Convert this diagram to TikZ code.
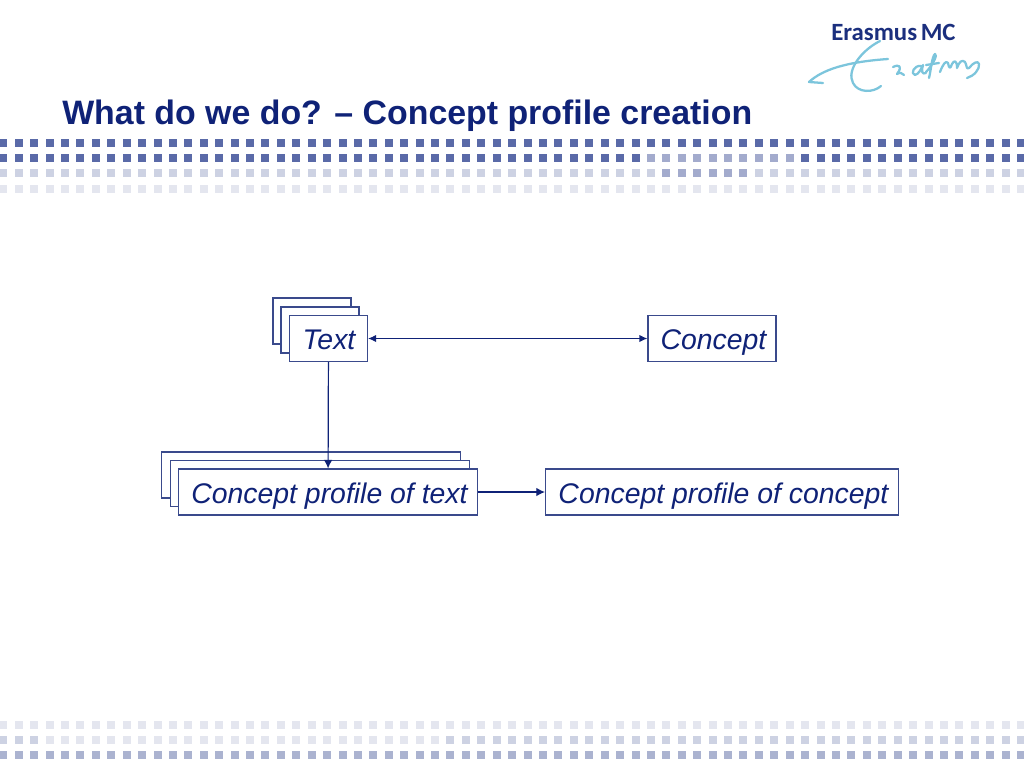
\documentclass[tikz,border=0pt]{standalone}
\usepackage{fontspec}
\setmainfont{Liberation Sans}
\newfontfamily\logofont{Carlito}
\usetikzlibrary{arrows.meta}
\definecolor{navy}{HTML}{0F2277}
\definecolor{boxline}{HTML}{3A4A8C}
\definecolor{sqA}{HTML}{5A6AA8}
\definecolor{sqB}{HTML}{A3ABCD}
\definecolor{sqC}{HTML}{CDD2E3}
\definecolor{sqD}{HTML}{E4E6EF}
\definecolor{sqE}{HTML}{ABB3D0}
\definecolor{logoblue}{HTML}{1B2F7E}
\definecolor{logocyan}{HTML}{7CC5DC}
\tikzset{
  boxnode/.style={draw=boxline,line width=0.85pt,fill=white,anchor=center,inner sep=0pt,text=navy,text height=17pt,text depth=0.5pt,font=\fontsize{21.3}{24}\selectfont\itshape},
  link/.style={navy,line width=0.9pt},
  sig/.style={logocyan,line width=1.7pt,line cap=round,line join=round}
}
\newcommand{\sq}[3]{\fill[#3] ({3.3+15.42*#1-4},{#2-4}) rectangle ++(8,8);}
\begin{document}
\begin{tikzpicture}[x=0.75pt,y=-0.75pt]
\useasboundingbox (0,0) rectangle (1024,768);
\fill[white] (0,0) rectangle (1024,768);
% dot bands
\foreach \i in {0,...,66}{
  \sq{\i}{143}{sqA}
  \pgfmathtruncatemacro{\mid}{(\i>=42 && \i<=51) ? 1 : 0}
  \ifnum\mid=1 \sq{\i}{158}{sqB} \else \sq{\i}{158}{sqA} \fi
  \pgfmathtruncatemacro{\mid}{(\i>=43 && \i<=48) ? 1 : 0}
  \ifnum\mid=1 \sq{\i}{173}{sqB} \else \sq{\i}{173}{sqC} \fi
  \sq{\i}{189}{sqD}
  \sq{\i}{725}{sqD}
  \pgfmathtruncatemacro{\mid}{(\i<=2 || \i>=29) ? 1 : 0}
  \ifnum\mid=1 \sq{\i}{740}{sqC} \else \sq{\i}{740}{sqD} \fi
  \sq{\i}{755}{sqE}
}
% title
\node[anchor=base west,inner sep=0pt,text=navy,font=\fontsize{25.4}{28}\selectfont\bfseries] (title) at (62,124.5) {What do we do? – Concept profile creation};
% logo
\node[anchor=base west,inner sep=0pt,text=logoblue,font=\logofont\fontsize{18.6}{20}\selectfont\bfseries] (logo) at (831,40.5) {Erasmus\kern-1.5pt\ MC};
\draw[sig] (809,82) .. controls (822,70) and (845,62) .. (888,59);
\draw[sig] (880,41) .. controls (862,50) and (846,70) .. (853,83) .. controls (858,93) and (873,93) .. (881,86);
\draw[sig] (809,82) -- (823,83);
\draw[sig] (893,67) .. controls (899,64) and (903,66) .. (897,74) .. controls (900,72) and (902,73) .. (904,75);
\draw[sig] (921,66) .. controls (914,65) and (910,74) .. (915,75) .. controls (919,74) and (921,69) .. (923,65) .. controls (921,71) and (922,75) .. (926,73);
\draw[sig] (926,72) .. controls (933,65) and (938,54) .. (935,54) .. controls (932,56) and (931,70) .. (929,78);
\draw[sig] (926,65) -- (939,63);
\draw[sig] (940,72) .. controls (943,64) and (946,60) .. (948,63) .. controls (949,68) and (950,70) .. (952,64) .. controls (954,60) and (957,60) .. (957,68) .. controls (959,62) and (962,59) .. (965,62) .. controls (967,65) and (966,70) .. (969,68) .. controls (973,63) and (978,60) .. (979,64) .. controls (980,69) and (974,76) .. (967,78);
% back sheets
\node[boxnode,minimum width=78pt*0.75,minimum height=46pt*0.75] (t3) at (312,321) {};
\node[boxnode,minimum width=78pt*0.75,minimum height=46pt*0.75] (t2) at (320,330) {};
\node[boxnode,minimum width=78pt*0.75,minimum height=46pt*0.75] (text) at (328.5,338.5) {\kern0.8pt Text};
\node[boxnode,minimum width=128pt*0.75,minimum height=46pt*0.75] (concept) at (712,338.5) {\kern2.2pt Concept};
\node[boxnode,minimum width=299pt*0.75,minimum height=46pt*0.75] (p3) at (311,475) {};
\node[boxnode,minimum width=299pt*0.75,minimum height=46pt*0.75] (p2) at (320,483.5) {};
\node[boxnode,minimum width=299pt*0.75,minimum height=46pt*0.75] (pt) at (328,492) {\kern2.2pt Concept profile of text};
\node[boxnode,minimum width=353pt*0.75,minimum height=46pt*0.75] (pc) at (722,492) {\kern2.2pt Concept profile of concept};
% connectors
\draw[link,{Latex[length=6pt,width=5.5pt]}-{Latex[length=6pt,width=5.5pt]}] (text) -- (concept);
\draw[link,-{Latex[length=6.5pt,width=6.5pt]}] (text) -- (pt);
\draw[link,-{Latex[length=6.5pt,width=6.5pt]}] (pt) -- (pc);
\end{tikzpicture}
\end{document}
